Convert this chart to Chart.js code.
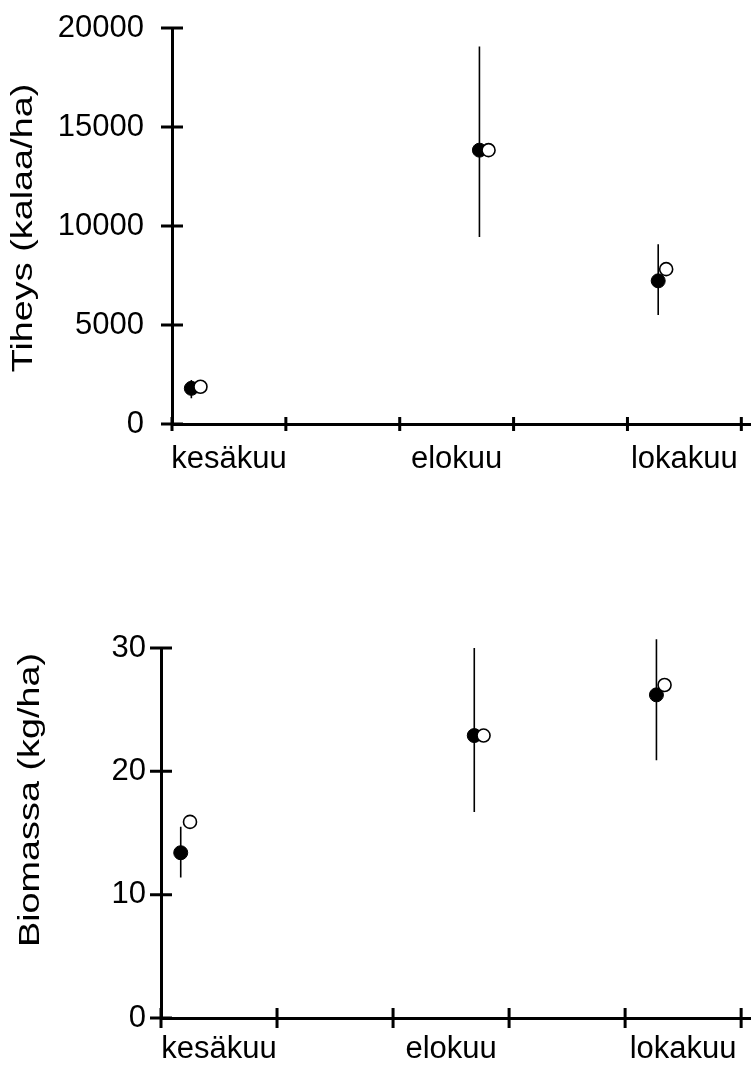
<!DOCTYPE html>
<html>
<head>
<meta charset="utf-8">
<script src="https://cdn.jsdelivr.net/npm/chart.js@4.4.1/dist/chart.umd.min.js"></script>
<style>
  body { margin: 0; background: #fff; }
  #wrap { position: relative; width: 751px; height: 1078px; }
  .box { position: absolute; left: 0; }
</style>
</head>
<body>
<div id="wrap">
  <div class="box" style="top:0px"><canvas id="densityChart" width="751" height="500"></canvas></div>
  <div class="box" style="top:530px"><canvas id="biomassChart" width="751" height="548"></canvas></div>
</div>
<script>
// month labels and where they sit on the x axis
var months = ['kesäkuu', 'elokuu', 'lokakuu'];
var monthPos = [0.5, 2.5, 4.5];

// sampling dates (filled / open markers)
var xFilled = [0.17, 2.70, 4.27];
var xOpen = [0.25, 2.78, 4.34];

// Tiheys (kalaa/ha)
var densFilled = [1800, 13830, 7230];
var densOpen = [1880, 13830, 7820];
var densLow = [1300, 9450, 5500];
var densHigh = [2220, 19070, 9080];

// Biomassa (kg/ha)
var bioFilled = [13.4, 22.9, 26.2];
var bioOpen = [15.9, 22.9, 27.0];
var bioLow = [11.4, 16.7, 20.9];
var bioHigh = [15.5, 30.0, 30.7];

var FONT = "'Liberation Sans', Arial, sans-serif";
Chart.defaults.font.family = FONT;
Chart.defaults.color = '#000';

function points(xs, ys) {
    var out = [];
    for (var i = 0; i < xs.length; i++) out.push({x: xs[i], y: ys[i]});
    return out;
}

function errorLines(xs, lo, hi) {
    var out = [];
    for (var i = 0; i < xs.length; i++) {
        out.push({x: xs[i], y: lo[i]});
        out.push({x: xs[i], y: hi[i]});
        out.push({x: xs[i], y: null});
    }
    return out;
}

// tick marks that cross the axis line
var crossTicks = {
    id: 'crossTicks',
    afterDraw: function(chart, args, opts) {
        var ctx = chart.ctx;
        var xs = chart.scales.x, ys = chart.scales.y;
        var area = chart.chartArea;
        ctx.save();
        ctx.strokeStyle = '#000';
        ctx.lineWidth = 3;
        ctx.beginPath();
        for (var v = 0; v <= 5; v++) {
            var px = xs.getPixelForValue(v);
            ctx.moveTo(px, area.bottom - opts.x);
            ctx.lineTo(px, area.bottom + opts.x);
        }
        ys.ticks.forEach(function(t) {
            var py = ys.getPixelForValue(t.value);
            ctx.moveTo(area.left - opts.y, py);
            ctx.lineTo(area.left + opts.y, py);
        });
        ctx.stroke();
        ctx.restore();
    }
};

// rotated y axis title (stretched along its length like the original)
var sideTitle = {
    id: 'sideTitle',
    afterDraw: function(chart, args, opts) {
        var ctx = chart.ctx;
        ctx.save();
        ctx.translate(opts.x, opts.y);
        ctx.rotate(-Math.PI / 2);
        ctx.scale(opts.stretch, 1);
        ctx.font = opts.size + 'px ' + FONT;
        ctx.fillStyle = '#000';
        ctx.textAlign = 'center';
        ctx.textBaseline = 'middle';
        ctx.fillText(opts.text, 0, 0);
        ctx.restore();
    }
};

function makeChart(id, cfg) {
    var ctx = document.getElementById(id);
    return new Chart(ctx, {
        type: 'scatter',
        data: {
            datasets: [
                {
                    label: 'open',
                    data: points(xOpen, cfg.open),
                    pointRadius: 6.5,
                    pointBackgroundColor: '#fff',
                    pointBorderColor: '#000',
                    pointBorderWidth: 1.6,
                    clip: false
                },
                {
                    label: 'filled',
                    data: points(xFilled, cfg.filled),
                    pointRadius: 7,
                    pointBackgroundColor: '#000',
                    pointBorderColor: '#000',
                    pointBorderWidth: 1,
                    clip: false
                },
                {
                    label: 'error',
                    data: errorLines(xFilled, cfg.low, cfg.high),
                    showLine: true,
                    spanGaps: false,
                    borderColor: '#000',
                    borderWidth: 1.6,
                    pointRadius: 0,
                    clip: false
                }
            ]
        },
        options: {
            responsive: false,
            animation: false,
            layout: {
                autoPadding: false,
                padding: { top: cfg.padTop, right: 0, left: 0, bottom: 0 }
            },
            plugins: {
                legend: { display: false },
                tooltip: { enabled: false },
                crossTicks: { x: cfg.xTick, y: 11 },
                sideTitle: { text: cfg.title, x: cfg.titleX, y: cfg.titleY, size: 30, stretch: 1.26 }
            },
            scales: {
                x: {
                    type: 'linear',
                    min: 0,
                    max: 5.085,
                    grid: { display: false, drawTicks: false },
                    border: { display: true, color: '#000', width: 3 },
                    ticks: {
                        stepSize: 0.5,
                        autoSkip: false,
                        maxRotation: 0,
                        padding: cfg.xLabelPad,
                        font: { size: 31 },
                        callback: function(value) {
                            var i = monthPos.indexOf(value);
                            return i >= 0 ? months[i] : '';
                        }
                    },
                    afterFit: function(scale) {
                        scale.height = cfg.xHeight;
                        scale.paddingLeft = 0;
                        scale.paddingRight = 0;
                    }
                },
                y: {
                    min: 0,
                    max: cfg.max,
                    grid: { display: false, drawTicks: false },
                    border: { display: true, color: '#000', width: 3 },
                    ticks: {
                        stepSize: cfg.step,
                        padding: cfg.yLabelPad,
                        font: { size: 31 },
                        callback: function(value) { return String(value); }
                    },
                    afterFit: function(scale) {
                        scale.width = cfg.yWidth;
                        scale.paddingTop = 0;
                        scale.paddingBottom = 0;
                    }
                }
            }
        },
        plugins: [crossTicks, sideTitle]
    });
}

makeChart('densityChart', {
    open: densOpen, filled: densFilled, low: densLow, high: densHigh,
    max: 20000, step: 5000, title: 'Tiheys (kalaa/ha)',
    padTop: 28, xHeight: 76, yWidth: 172, xTick: 7,
    xLabelPad: 17, yLabelPad: 28, titleX: 24, titleY: 228
});

makeChart('biomassChart', {
    open: bioOpen, filled: bioFilled, low: bioLow, high: bioHigh,
    max: 30, step: 10, title: 'Biomassa (kg/ha)',
    padTop: 118, xHeight: 60, yWidth: 161, xTick: 10,
    xLabelPad: 13, yLabelPad: 15, titleX: 31, titleY: 270
});
</script>
</body>
</html>
